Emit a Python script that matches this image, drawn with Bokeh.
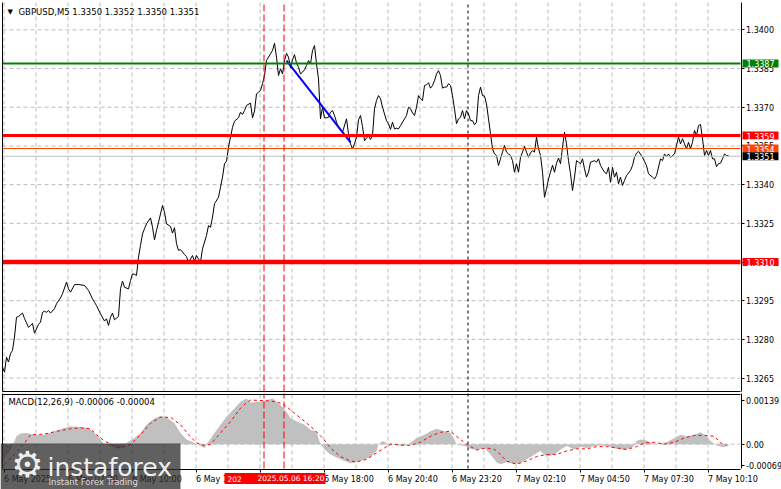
from bokeh.plotting import figure
from bokeh.models import (Range1d, FixedTicker, PrintfTickFormatter, Label, LinearAxis,
                          BoxAnnotation)
from bokeh.layouts import column
from bokeh.embed import file_html
from bokeh.resources import INLINE

# ---------------- data ----------------
symbol_title = "GBPUSD,M5  1.3350 1.3352 1.3350 1.3351"
macd_title = "MACD(12,26,9) -0.00006 -0.00004"

price_bars = [0, 1, 2, 3, 4, 5, 6, 7, 8, 10, 11, 13, 14, 15, 16, 18, 19, 20, 21, 22, 23, 24, 26, 27, 29, 30,
              32, 33, 34, 36, 38, 41, 43, 45, 46, 47, 49, 51, 52, 53, 54, 55, 56, 58, 59, 60, 61, 63, 64, 65,
              66, 67, 68, 69, 70, 71, 72, 74, 75, 76, 77, 78, 80, 81, 82, 84, 85, 86, 87, 88, 89, 91, 92, 93,
              95, 96, 97, 99, 100, 102, 103, 104, 105, 106, 108, 109, 110, 111, 112, 113, 114, 115, 116, 118,
              119, 120, 121, 122, 124, 125, 126, 127, 128, 129, 130, 131, 132, 134, 135, 136, 137, 138, 139,
              140, 141, 142, 143, 144, 145, 146, 147, 148, 149, 150, 151, 152, 153, 154, 155, 156, 157, 158,
              159, 160, 161, 162, 163, 164, 165, 166, 167, 168, 169, 170, 172, 173, 174, 175, 176, 177, 178,
              179, 180, 181, 183, 184, 185, 186, 187, 188, 189, 190, 191, 192, 193, 194, 195, 196, 197, 198,
              199, 201, 202, 203, 204, 205, 206, 207, 208, 209, 210, 211, 212, 213, 214, 215, 216, 217, 218,
              219, 220, 221, 222, 223, 224, 225, 226, 227, 228, 229, 230, 231, 232, 233, 234, 235, 236, 237,
              238, 239, 240, 241, 242, 243, 244, 245, 246, 247, 248, 249, 250, 251, 252, 253, 254, 255, 256,
              257, 258, 259, 260, 261, 262, 263, 264, 265, 266, 267, 268, 269, 270, 271, 272, 273, 274, 275,
              276, 277, 278, 279, 280, 281, 282, 283, 284, 285, 286, 287, 288, 289, 290, 291, 292, 293, 294,
              296, 297, 298, 299, 301, 302, 303, 304, 305, 306, 307, 308, 309, 310, 311, 312, 314, 315, 316,
              317, 318, 320, 322, 323, 325, 326, 327, 329, 330, 331, 332, 333, 334, 336, 337, 338, 339, 340,
              341, 342, 343, 344, 345, 346, 347, 348, 349, 350, 351, 352, 353, 354, 355, 356, 357, 358, 359,
              360, 361, 362, 363]
price_close = [1.32692, 1.32673, 1.32731, 1.32712, 1.32745, 1.32757, 1.32809, 1.32886, 1.32889, 1.32902,
               1.32881, 1.32847, 1.32854, 1.32862, 1.32824, 1.32858, 1.32867, 1.32905, 1.32909, 1.32905,
               1.32912, 1.32902, 1.32919, 1.32938, 1.32961, 1.32977, 1.33022, 1.32996, 1.32983, 1.33012,
               1.33013, 1.33009, 1.32990, 1.32957, 1.32944, 1.32931, 1.32899, 1.32871, 1.32880, 1.32854,
               1.32886, 1.32902, 1.32876, 1.32889, 1.32996, 1.33026, 1.33002, 1.32996, 1.33028, 1.33054,
               1.33052, 1.33048, 1.33119, 1.33164, 1.33209, 1.33229, 1.33248, 1.33271, 1.33235, 1.33186,
               1.33222, 1.33254, 1.33319, 1.33293, 1.33248, 1.33238, 1.33212, 1.33233, 1.33171, 1.33145,
               1.33148, 1.33129, 1.33121, 1.33099, 1.33125, 1.33103, 1.33125, 1.33099, 1.33151, 1.33203,
               1.33241, 1.33235, 1.33274, 1.33326, 1.33351, 1.33390, 1.33429, 1.33481, 1.33491, 1.33545,
               1.33584, 1.33622, 1.33646, 1.33659, 1.33681, 1.33672, 1.33687, 1.33707, 1.33716, 1.33659,
               1.33685, 1.33752, 1.33758, 1.33765, 1.33791, 1.33823, 1.33881, 1.33907, 1.33920, 1.33948,
               1.33894, 1.33823, 1.33849, 1.33829, 1.33881, 1.33909, 1.33894, 1.33853, 1.33884, 1.33904,
               1.33871, 1.33855, 1.33829, 1.33836, 1.33845, 1.33862, 1.33881, 1.33868, 1.33920, 1.33939,
               1.33868, 1.33810, 1.33655, 1.33700, 1.33659, 1.33659, 1.33661, 1.33681, 1.33687, 1.33668,
               1.33642, 1.33622, 1.33610, 1.33603, 1.33655, 1.33597, 1.33558, 1.33539, 1.33558, 1.33584,
               1.33651, 1.33668, 1.33625, 1.33570, 1.33590, 1.33575, 1.33590, 1.33694, 1.33726, 1.33745,
               1.33733, 1.33700, 1.33674, 1.33648, 1.33636, 1.33614, 1.33642, 1.33616, 1.33619, 1.33616,
               1.33629, 1.33655, 1.33668, 1.33700, 1.33694, 1.33678, 1.33668, 1.33700, 1.33745, 1.33733,
               1.33726, 1.33784, 1.33787, 1.33795, 1.33774, 1.33784, 1.33803, 1.33829, 1.33842, 1.33823,
               1.33774, 1.33778, 1.33778, 1.33791, 1.33784, 1.33745, 1.33694, 1.33636, 1.33655, 1.33661,
               1.33687, 1.33655, 1.33687, 1.33674, 1.33648, 1.33648, 1.33632, 1.33642, 1.33745, 1.33778,
               1.33745, 1.33743, 1.33713, 1.33655, 1.33597, 1.33539, 1.33519, 1.33513, 1.33474, 1.33500,
               1.33526, 1.33552, 1.33526, 1.33519, 1.33513, 1.33493, 1.33448, 1.33481, 1.33448, 1.33506,
               1.33526, 1.33549, 1.33526, 1.33506, 1.33523, 1.33532, 1.33526, 1.33584, 1.33539, 1.33513,
               1.33448, 1.33351, 1.33384, 1.33422, 1.33448, 1.33475, 1.33448, 1.33483, 1.33503, 1.33481,
               1.33545, 1.33603, 1.33558, 1.33493, 1.33442, 1.33377, 1.33429, 1.33493, 1.33487, 1.33481,
               1.33500, 1.33461, 1.33429, 1.33448, 1.33487, 1.33493, 1.33487, 1.33500, 1.33474, 1.33448,
               1.33442, 1.33467, 1.33409, 1.33467, 1.33429, 1.33448, 1.33403, 1.33429, 1.33397, 1.33416,
               1.33435, 1.33455, 1.33474, 1.33506, 1.33522, 1.33529, 1.33506, 1.33474, 1.33442, 1.33429,
               1.33422, 1.33435, 1.33500, 1.33493, 1.33519, 1.33509, 1.33519, 1.33506, 1.33519, 1.33552,
               1.33584, 1.33558, 1.33578, 1.33558, 1.33539, 1.33564, 1.33539, 1.33564, 1.33610, 1.33590,
               1.33629, 1.33633, 1.33578, 1.33513, 1.33532, 1.33513, 1.33532, 1.33500, 1.33500, 1.33470,
               1.33481, 1.33483, 1.33500, 1.33519, 1.33513, 1.33513]

hist_bars = [0, 4, 6, 7, 9, 12, 16, 21, 26, 31, 34, 39, 43, 46, 49, 51, 54, 56, 59, 62,
             66, 69, 72, 76, 79, 82, 86, 89, 92, 96, 99, 101, 102, 106, 109, 112, 116, 119, 122, 124,
             129, 132, 135, 137, 139, 142, 144, 147, 151, 154, 157, 158, 159, 161, 164, 167, 171, 174, 177, 181,
             184, 187, 188, 190, 192, 193, 196, 198, 201, 204, 207, 211, 214, 217, 221, 224, 226, 227, 231, 234,
             237, 241, 244, 247, 249, 252, 256, 259, 262, 266, 269, 272, 276, 279, 282, 286, 289, 292, 296, 299,
             302, 307, 311, 314, 316, 317, 319, 322, 326, 329, 332, 336, 339, 342, 346, 349, 352, 354, 357, 360,
             363]
hist_values = [-0.00050, -0.00020, 0.00010, 0.00025, 0.00034, 0.00036, 0.00030, 0.00030, 0.00041, 0.00052,
               0.00057, 0.00055, 0.00052, 0.00036, 0.00015, -0.00001, -0.00006, -0.00012, -0.00015, 0.00004,
               0.00020, 0.00036, 0.00062, 0.00083, 0.00090, 0.00086, 0.00067, 0.00036, 0.00015, 0.00004,
               -0.00006, -0.00012, -0.00001, 0.00036, 0.00062, 0.00088, 0.00115, 0.00136, 0.00146, 0.00133,
               0.00136, 0.00141, 0.00146, 0.00136, 0.00125, 0.00104, 0.00083, 0.00073, 0.00062, 0.00046,
               0.00041, 0.00020, 0.00000, -0.00017, -0.00033, -0.00043, -0.00054, -0.00061, -0.00058, -0.00049,
               -0.00040, -0.00022, 0.00000, 0.00010, 0.00004, -0.00006, -0.00001, -0.00004, -0.00006, 0.00004,
               0.00020, 0.00030, 0.00041, 0.00049, 0.00041, 0.00036, 0.00015, 0.00000, -0.00006, -0.00015,
               -0.00019, -0.00012, -0.00033, -0.00058, -0.00064, -0.00058, -0.00064, -0.00060, -0.00049, -0.00033,
               -0.00022, -0.00040, -0.00033, -0.00017, -0.00006, -0.00017, -0.00009, -0.00012, -0.00006, -0.00004,
               -0.00006, -0.00015, -0.00019, -0.00012, -0.00004, 0.00010, 0.00015, 0.00012, -0.00002, 0.00004,
               0.00006, 0.00020, 0.00030, 0.00025, 0.00030, 0.00038, 0.00025, 0.00010, -0.00004, -0.00009,
               -0.00006]

signal_bars = [1, 6, 11, 14, 21, 27, 34, 39, 44, 47, 51, 56, 59, 64, 69, 74, 79, 84, 89, 93,
               97, 101, 104, 109, 114, 119, 122, 124, 131, 137, 141, 146, 151, 156, 160, 164, 169, 174, 177, 182,
               187, 191, 194, 199, 204, 209, 214, 219, 224, 227, 232, 237, 242, 246, 248, 249, 252, 257, 262, 267,
               272, 277, 282, 287, 292, 297, 302, 307, 312, 317, 321, 326, 331, 336, 341, 346, 351, 356, 359, 362]
signal_values = [-0.00064, -0.00033, 0.00004, 0.00030, 0.00032, 0.00041, 0.00049, 0.00052, 0.00049, 0.00030,
                 0.00010, -0.00006, -0.00012, -0.00001, 0.00030, 0.00067, 0.00086, 0.00086, 0.00062, 0.00030,
                 0.00004, -0.00004, -0.00001, 0.00036, 0.00072, 0.00115, 0.00133, 0.00141, 0.00139, 0.00136,
                 0.00125, 0.00099, 0.00073, 0.00046, 0.00020, -0.00012, -0.00040, -0.00054, -0.00057, -0.00049,
                 -0.00028, -0.00012, 0.00000, -0.00003, -0.00004, 0.00006, 0.00025, 0.00038, 0.00041, 0.00025,
                 0.00000, -0.00019, -0.00012, -0.00017, -0.00028, -0.00033, -0.00054, -0.00064, -0.00054, -0.00040,
                 -0.00033, -0.00033, -0.00022, -0.00015, -0.00015, -0.00008, -0.00008, -0.00012, -0.00017, -0.00008,
                 0.00004, 0.00006, 0.00000, 0.00006, 0.00020, 0.00028, 0.00028, 0.00025, 0.00004, -0.00004]

price_ticks = [1.3265, 1.3280, 1.3295, 1.3310, 1.3325, 1.3340, 1.3355, 1.3370, 1.3385, 1.3400]
macd_ticks = [-0.00069, 0.0, 0.00139]
time_labels = ["6 May 2025", "6 May 07:20", "6 May 10:00", "6 May 12:40", "6 May 15:20", "6 May 18:00",
               "6 May 20:40", "6 May 23:20", "7 May 02:10", "7 May 04:50", "7 May 07:30", "7 May 10:10"]

level_values = [1.3351, 1.3354, 1.3387, 1.3359, 1.3310]
trend_bars = [142, 174]
trend_prices = [1.33881, 1.33564]
event_bars_red = [130.75, 140.75]
event_bars_black = [232.75]
cursor_label = "2025.05.06 16:20"
cursor_clipped = "202"
brand_name = "instaforex"
brand_slogan = "Instant Forex Trading"

# ---------------- styling / layout ----------------
FONT = "DejaVu Sans"
GRID = "#BDBDBD"
N_BARS = 369
PX_PER_BAR = 2
CHART_LEFT = 2
CANVAS_W = 781
MAIN_H, MAIN_TOP, MAIN_BOTTOM = 392, 2, 391
MACD_H, MACD_TOP, MACD_BOTTOM = 97, 1, 76
Y_MAIN = (1.32598, 1.34106)
Y_MACD = (-0.00078, 0.00162)
level_colors = ["#C0C0C0", "#FF4500", "#008000", "#FF0000", "#FF0000"]
level_widths = [1, 1, 2, 3, 4.5]
tag_colors = ["#000000", "#FF4500", "#008000", "#FF0000", "#FF0000"]
tag_order = [1, 0, 2, 3, 4]  # orange tag lies under the black one
time_tick_bars = [0.75 + 32 * k for k in range(len(time_labels))]
grid_bars = [0.75 + 16 * k for k in range(23)]
HALF_BAR = 0.25  # half a pixel, keeps 1px border lines crisp

x_start = -CHART_LEFT / PX_PER_BAR
xr = Range1d(x_start, x_start + CANVAS_W / PX_PER_BAR)


def y_range_for(lo, hi, top_px, bottom_px, height):
    per_px = (hi - lo) / (bottom_px - top_px)
    return Range1d(lo - (height - bottom_px) * per_px, hi + top_px * per_px), per_px


def make_fig(height, yr):
    f = figure(width=CANVAS_W, height=height, x_range=xr, y_range=yr, x_axis_location=None,
               y_axis_location=None, output_backend="svg", toolbar_location=None,
               min_border_left=0, min_border_right=0, min_border_top=0, min_border_bottom=0,
               outline_line_color=None, background_fill_color="white", border_fill_color="white")
    for g in list(f.xgrid) + list(f.ygrid):
        g.visible = False
    return f


def border_axis(fig, side, loc, bounds):
    ax = LinearAxis(fixed_location=loc, bounds=bounds, ticker=FixedTicker(ticks=[]),
                    axis_line_color="black", major_tick_line_color=None,
                    minor_tick_line_color=None, major_label_text_color=None)
    fig.add_layout(ax, side)


def value_axis(fig, ticks, bounds, fmt, overrides=None):
    ax = LinearAxis(fixed_location=N_BARS + HALF_BAR, bounds=bounds, ticker=FixedTicker(ticks=ticks),
                    formatter=PrintfTickFormatter(format=fmt), axis_line_color="black",
                    major_tick_line_color="black", major_tick_in=0, major_tick_out=3,
                    minor_tick_line_color=None, major_label_standoff=2,
                    major_label_text_font=FONT, major_label_text_font_size="8px",
                    major_label_text_color="black")
    if overrides:
        ax.major_label_overrides = overrides
    fig.add_layout(ax, "right")


def add_grid(fig, ylo, yhi, yticks):
    fig.segment(x0=grid_bars, x1=grid_bars, y0=ylo, y1=yhi, line_color=GRID,
                line_dash="4 3", line_width=1)
    fig.segment(x0=0, x1=N_BARS, y0=yticks, y1=yticks, line_color=GRID,
                line_dash="4 3", line_width=1)


def add_event_lines(fig, ylo, yhi):
    fig.segment(x0=event_bars_red, x1=event_bars_red, y0=ylo, y1=yhi, line_color="#FF0000",
                line_dash="7 3", line_width=1)
    fig.segment(x0=event_bars_black, x1=event_bars_black, y0=ylo, y1=yhi, line_color="black",
                line_dash="3 3", line_width=1)


# ---------------- main price panel ----------------
yr1, per_px1 = y_range_for(*Y_MAIN, MAIN_TOP, MAIN_BOTTOM, MAIN_H)
p1 = make_fig(MAIN_H, yr1)
add_grid(p1, Y_MAIN[0], Y_MAIN[1], price_ticks)
p1.line(price_bars, price_close, line_color="black", line_width=1)
p1.line(trend_bars, trend_prices, line_color="#0000FF", line_width=2)
p1.segment(x0=0, x1=N_BARS, y0=level_values, y1=level_values, line_color=level_colors,
           line_width=level_widths)
add_event_lines(p1, Y_MAIN[0], Y_MAIN[1])

value_axis(p1, price_ticks, Y_MAIN, "%.4f")
border_axis(p1, "below", Y_MAIN[0] + per_px1 / 2, (0, N_BARS))
border_axis(p1, "left", -HALF_BAR, Y_MAIN)

for i in tag_order:
    p1.add_layout(Label(x=742, y=level_values[i], x_units="canvas", y_units="data",
                        text="%.4f" % level_values[i], text_color="white", text_font=FONT,
                        text_font_size="8px", text_baseline="middle", text_align="left",
                        background_fill_color=tag_colors[i],
                        padding=dict(left=4, right=4, top=1, bottom=0)))

p1.add_layout(Label(x=7, y=11, x_units="canvas", y_units="canvas", text="\u25bc",
                    text_font=FONT, text_font_size="7px", text_color="black",
                    text_baseline="middle", text_align="left"))
p1.add_layout(Label(x=18, y=11, x_units="canvas", y_units="canvas", text=symbol_title,
                    text_font=FONT, text_font_size="8.5px", text_color="black",
                    text_baseline="middle", text_align="left"))

# ---------------- MACD panel ----------------
yr2, per_px2 = y_range_for(*Y_MACD, MACD_TOP, MACD_BOTTOM, MACD_H)
p2 = make_fig(MACD_H, yr2)
add_grid(p2, Y_MACD[0], Y_MACD[1], [0.0])
p2.varea(x=hist_bars, y1=0, y2=hist_values, fill_color="#C0C0C0", fill_alpha=1)
p2.line(signal_bars, signal_values, line_color="#FF0000", line_width=1, line_dash="3 3")
add_event_lines(p2, Y_MACD[0], Y_MACD[1])

value_axis(p2, macd_ticks, Y_MACD, "%.5f", overrides={0: "0.00"})
border_axis(p2, "above", Y_MACD[1] - per_px2 / 2, (0, N_BARS))
border_axis(p2, "left", -HALF_BAR, Y_MACD)

time_axis = LinearAxis(fixed_location=Y_MACD[0] - per_px2 / 2, bounds=(0, N_BARS),
                       ticker=FixedTicker(ticks=time_tick_bars),
                       major_label_overrides=dict(zip(time_tick_bars, time_labels)),
                       axis_line_color="black", major_tick_line_color="black",
                       major_tick_in=0, major_tick_out=3, minor_tick_line_color=None,
                       major_label_orientation=-1e-9, major_label_standoff=7,
                       major_label_text_font=FONT, major_label_text_font_size="8px",
                       major_label_text_color="black")
p2.add_layout(time_axis, "below")

p2.add_layout(Label(x=8, y=9, x_units="canvas", y_units="canvas", text=macd_title,
                    text_font=FONT, text_font_size="8.5px", text_color="black",
                    text_baseline="middle", text_align="left"))

# red cursor time box on the time scale
p2.add_layout(Label(x=224, y=86, x_units="canvas", y_units="canvas", text=cursor_label,
                    text_font=FONT, text_font_size="7.5px", text_color="white",
                    text_baseline="middle", text_align="left", background_fill_color="#FF0000",
                    padding=dict(left=33, right=1, top=1, bottom=1)))
p2.add_layout(Label(x=227, y=86, x_units="canvas", y_units="canvas", text=cursor_clipped,
                    text_font=FONT, text_font_size="7.5px", text_color="white",
                    text_baseline="middle", text_align="left"))

# watermark
p2.add_layout(BoxAnnotation(left=0, right=180, top=51, bottom=MACD_H, left_units="canvas",
                            right_units="canvas", top_units="canvas", bottom_units="canvas",
                            fill_color="#2B2B2B", fill_alpha=0.75, line_color=None))
p2.add_layout(Label(x=27, y=72, x_units="canvas", y_units="canvas", text="\u2699",
                    text_font=FONT, text_font_size="36px", text_color="#EEEEEE",
                    text_baseline="middle", text_align="center"))
p2.add_layout(Label(x=47, y=75, x_units="canvas", y_units="canvas", text=brand_name,
                    text_font=FONT, text_font_size="25px", text_color="#EEEEEE",
                    text_baseline="alphabetic", text_align="left"))
p2.add_layout(Label(x=48, y=89, x_units="canvas", y_units="canvas", text=brand_slogan,
                    text_font=FONT, text_font_size="8.5px", text_color="#DDDDDD",
                    text_baseline="middle", text_align="left"))

layout = column(p1, p2, spacing=0)
open("out.html", "w").write(file_html(layout, INLINE))
